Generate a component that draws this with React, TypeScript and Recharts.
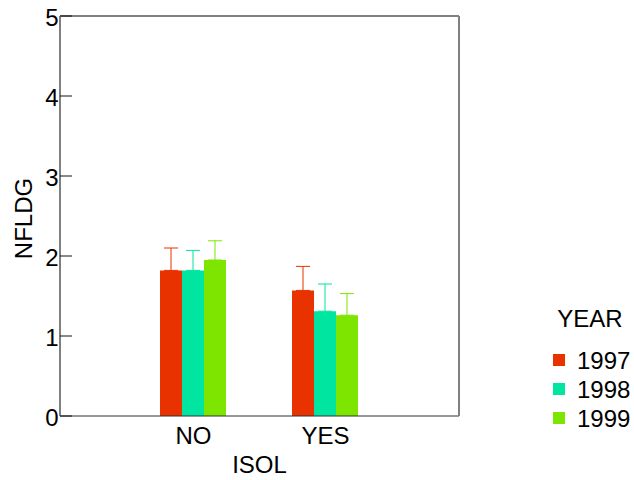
import React from 'react';
import { BarChart, Bar, XAxis, YAxis, ErrorBar, Legend, ReferenceLine, Label } from 'recharts';

// Mean NFLDG by isolation status, one bar per year, with upper error whiskers
const categories = ['NO', 'YES'];
const years = ['1997', '1998', '1999'];
const means1997 = [1.82, 1.57];
const means1998 = [1.82, 1.31];
const means1999 = [1.95, 1.26];
const err1997 = [0.28, 0.3];
const err1998 = [0.25, 0.34];
const err1999 = [0.24, 0.27];
const yTicks = [0, 1, 2, 3, 4, 5];

const colors = ['#E83200', '#00E5A0', '#7DE500'];
const frame = '#808080';
const tickColor = '#111';
const font = '"Liberation Sans", Arial, sans-serif';
const textSize = 24;
const tickLen = 12;
const labelGap = 1.5;

const data = categories.map((isol, i) => ({
  isol,
  y1997: means1997[i],
  y1998: means1998[i],
  y1999: means1999[i],
  e1997: [0, err1997[i]],
  e1998: [0, err1998[i]],
  e1999: [0, err1999[i]],
}));

// Left value ticks: label outside the frame, tick mark pointing into the plot
function LeftTick(props: any) {
  const { x, y, payload } = props;
  return (
    <g>
      <line x1={x + labelGap} x2={x + labelGap + tickLen} y1={y} y2={y} stroke={tickColor} />
      <text x={x} y={y + 1} dy="0.355em" textAnchor="end" fontSize={textSize} fill="#000">
        {payload.value}
      </text>
    </g>
  );
}

function YTitle(props: any) {
  const vb = props.viewBox || { x: 0, y: 0, width: 0, height: 0 };
  const cx = vb.x + 23.3;
  const cy = vb.y + vb.height / 2 + 2.5;
  return (
    <text
      x={cx}
      y={cy}
      dy="0.355em"
      transform={`rotate(-90, ${cx}, ${cy})`}
      textAnchor="middle"
      fontSize={textSize}
      fill="#000"
    >
      NFLDG
    </text>
  );
}

function YearLegend(props: any) {
  const payload = (props.payload || []) as any[];
  return (
    <svg width={94} height={140} style={{ display: 'block', overflow: 'visible' }}>
      <text x={50} y={27} textAnchor="middle" fontSize={textSize} fill="#000">
        YEAR
      </text>
      {payload.map((p, i) => (
        <g key={String(p.value)}>
          <rect x={13} y={54 + i * 29} width={12} height={12} fill={p.color} />
          <text x={37} y={69 + i * 29} fontSize={textSize} fill="#000">
            {p.value}
          </text>
        </g>
      ))}
    </svg>
  );
}

export default function App() {
  return (
    <div style={{ position: 'absolute', left: 0, top: 0, fontFamily: font }}>
      <BarChart
        width={634}
        height={480}
        data={data}
        margin={{ top: 16, right: 155, bottom: 0, left: 0 }}
        barGap={0}
        barCategoryGap={32.5}
      >
        <XAxis
          dataKey="isol"
          padding={{ left: 67.5, right: 67.5 }}
          height={64}
          tickLine={false}
          tickSize={6}
          tickMargin={5}
          axisLine={{ stroke: '#333' }}
          tick={{ fill: '#000', fontSize: textSize }}
          label={{ value: 'ISOL', position: 'insideBottom', offset: 6.7, fill: '#000', fontSize: textSize }}
        />
        <YAxis
          yAxisId="l"
          width={60}
          domain={[0, 5]}
          ticks={yTicks}
          interval={0}
          tickSize={0}
          tickMargin={labelGap}
          tickLine={false}
          axisLine={{ stroke: frame, strokeWidth: 2 }}
          tick={<LeftTick />}
        >
          <Label content={YTitle} position="insideLeft" />
        </YAxis>
        <YAxis
          yAxisId="r"
          orientation="right"
          width={20}
          domain={[0, 5]}
          ticks={yTicks}
          interval={0}
          tickSize={-tickLen}
          tick={false}
          axisLine={{ stroke: frame, strokeWidth: 2 }}
          tickLine={{ stroke: tickColor }}
        />
        <ReferenceLine yAxisId="l" y={5} stroke={frame} strokeWidth={2} />
        <Legend
          layout="horizontal"
          verticalAlign="middle"
          align="center"
          wrapperStyle={{ left: 540, top: 300, width: 94, height: 140 }}
          content={<YearLegend />}
        />
        <Bar yAxisId="l" dataKey="y1997" name={years[0]} fill={colors[0]} isAnimationActive={false}>
          <ErrorBar dataKey="e1997" direction="y" width={7} stroke={colors[0]} strokeWidth={1} isAnimationActive={false} />
        </Bar>
        <Bar yAxisId="l" dataKey="y1998" name={years[1]} fill={colors[1]} isAnimationActive={false}>
          <ErrorBar dataKey="e1998" direction="y" width={7} stroke={colors[1]} strokeWidth={1} isAnimationActive={false} />
        </Bar>
        <Bar yAxisId="l" dataKey="y1999" name={years[2]} fill={colors[2]} isAnimationActive={false}>
          <ErrorBar dataKey="e1999" direction="y" width={7} stroke={colors[2]} strokeWidth={1} isAnimationActive={false} />
        </Bar>
      </BarChart>
    </div>
  );
}
